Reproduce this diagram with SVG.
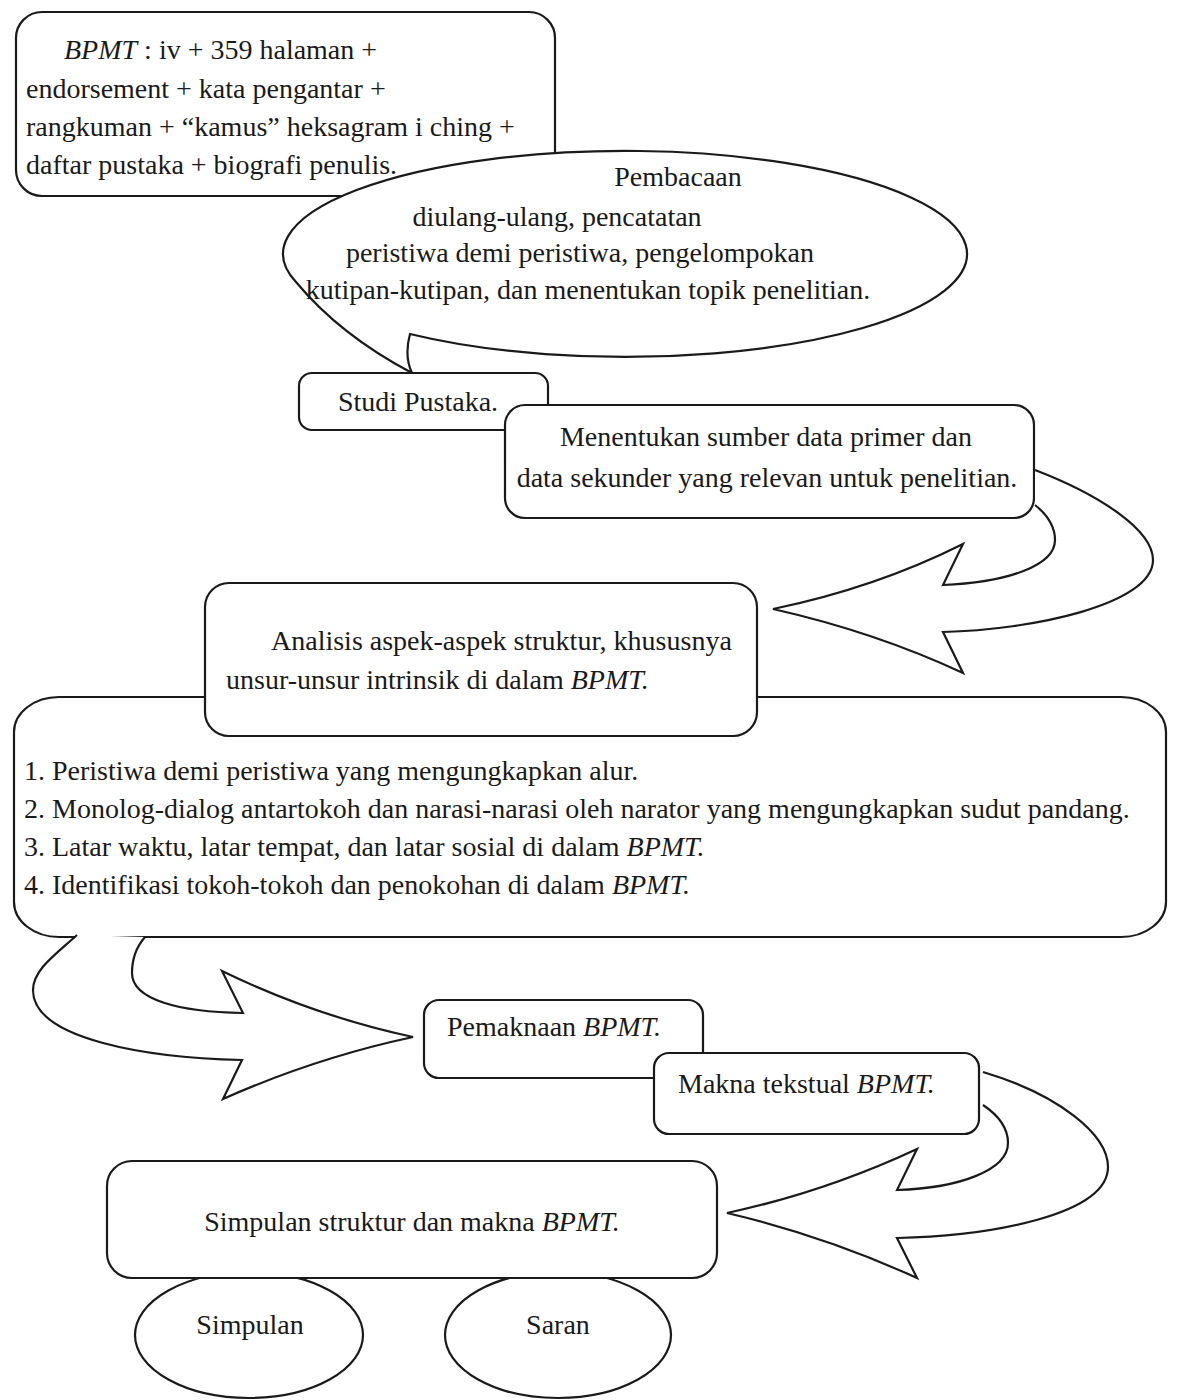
<svg xmlns="http://www.w3.org/2000/svg" width="1179" height="1400" viewBox="0 0 1179 1400">
<style>
.n{fill:#fff;stroke:#1a1a1a;stroke-width:2.2}
.c{fill:#fff;stroke:#1a1a1a;stroke-width:2.2;stroke-linejoin:miter}
text{font-family:"Liberation Serif","Times New Roman",serif;font-size:28px;fill:#1a1a1a}
.m{text-anchor:middle}
.i{font-style:italic}
</style>
<rect width="1179" height="1400" fill="#fff"/>
<g id="node-bpmt">
<rect class="n" x="16" y="12" width="539" height="184" rx="26" ry="26"/>
<text x="64" y="59"><tspan class="i">BPMT</tspan> : iv + 359 halaman +</text>
<text x="26" y="98">endorsement + kata pengantar +</text>
<text x="26" y="136">rangkuman + “kamus” heksagram i ching +</text>
<text x="26" y="174">daftar pustaka + biografi penulis.</text>
</g>
<g id="node-pembacaan">
<path class="n" d="M 296,282 A 342 103 0 1 1 410,334 Q 404,356 412,373 Q 340,335 296,282 Z"/>
<text class="m" x="678" y="186">Pembacaan</text>
<text class="m" x="557" y="226">diulang-ulang, pencatatan</text>
<text class="m" x="580" y="262">peristiwa demi peristiwa, pengelompokan</text>
<text class="m" x="588" y="299">kutipan-kutipan, dan menentukan topik penelitian.</text>
</g>
<g id="node-studi">
<rect class="n" x="299" y="373" width="249" height="57" rx="13" ry="13"/>
<text class="m" x="418" y="411">Studi Pustaka.</text>
</g>
<g id="node-menentukan">
<rect class="n" x="505" y="405" width="529" height="113" rx="20" ry="20"/>
<text class="m" x="766" y="446">Menentukan sumber data primer dan</text>
<text class="m" x="767" y="487">data sekunder yang relevan untuk penelitian.</text>
</g>
<g id="node-list">
<rect class="n" x="14" y="697" width="1152" height="240" rx="45" ry="35"/>
<text x="24" y="780">1. Peristiwa demi peristiwa yang mengungkapkan alur.</text>
<text x="24" y="818">2. Monolog-dialog antartokoh dan narasi-narasi oleh narator yang mengungkapkan sudut pandang.</text>
<text x="24" y="856">3. Latar waktu, latar tempat, dan latar sosial di dalam <tspan class="i">BPMT.</tspan></text>
<text x="24" y="894">4. Identifikasi tokoh-tokoh dan penokohan di dalam <tspan class="i">BPMT.</tspan></text>
</g>
<g id="node-analisis">
<rect class="n" x="205" y="583" width="552" height="153" rx="24" ry="24"/>
<text x="271" y="650">Analisis aspek-aspek struktur, khususnya</text>
<text x="226" y="689">unsur-unsur intrinsik di dalam <tspan class="i">BPMT.</tspan></text>
</g>
<g id="node-pemaknaan">
<rect class="n" x="424" y="1000" width="279" height="78" rx="15" ry="15"/>
<text x="447" y="1036">Pemaknaan <tspan class="i">BPMT.</tspan></text>
</g>
<g id="node-makna">
<rect class="n" x="654" y="1053" width="325" height="81" rx="15" ry="15"/>
<text x="678" y="1093">Makna tekstual <tspan class="i">BPMT.</tspan></text>
</g>
<g id="node-simpulan-ellipse">
<ellipse class="n" cx="249" cy="1335" rx="114" ry="63"/>
<text class="m" x="250" y="1334">Simpulan</text>
</g>
<g id="node-saran">
<ellipse class="n" cx="558" cy="1335" rx="113" ry="63"/>
<text class="m" x="558" y="1334">Saran</text>
</g>
<g id="node-simpulan-box">
<rect class="n" x="107" y="1161" width="610" height="117" rx="25" ry="25"/>
<text class="m" x="412" y="1231">Simpulan struktur dan makna <tspan class="i">BPMT.</tspan></text>
</g>
<g id="connectors">
<path class="c" d="M 1035,470 C 1100,495 1153,530 1153,560 C 1153,605 1030,630 943,632 L 963,673 Q 875,632 773,609 Q 875,588 963,544 L 943,585 C 1010,582 1055,565 1055,540 C 1055,525 1045,513 1035,505"/>
<path class="c" d="M 77,935 C 55,955 33,970 33,990 C 33,1040 150,1058 242,1060 L 223,1099 Q 315,1058 413,1037 Q 315,1016 222,971 L 243,1013 C 180,1012 132,1000 132,973 C 132,955 138,945 145,937"/>
<path class="c" d="M 983,1072 C 1060,1095 1108,1135 1108,1167 C 1108,1215 990,1236 897,1238 L 917,1278 Q 825,1236 727,1213 Q 825,1192 917,1149 L 897,1190 C 960,1188 1008,1170 1008,1143 C 1008,1125 995,1113 983,1105"/>
</g>
</svg>
